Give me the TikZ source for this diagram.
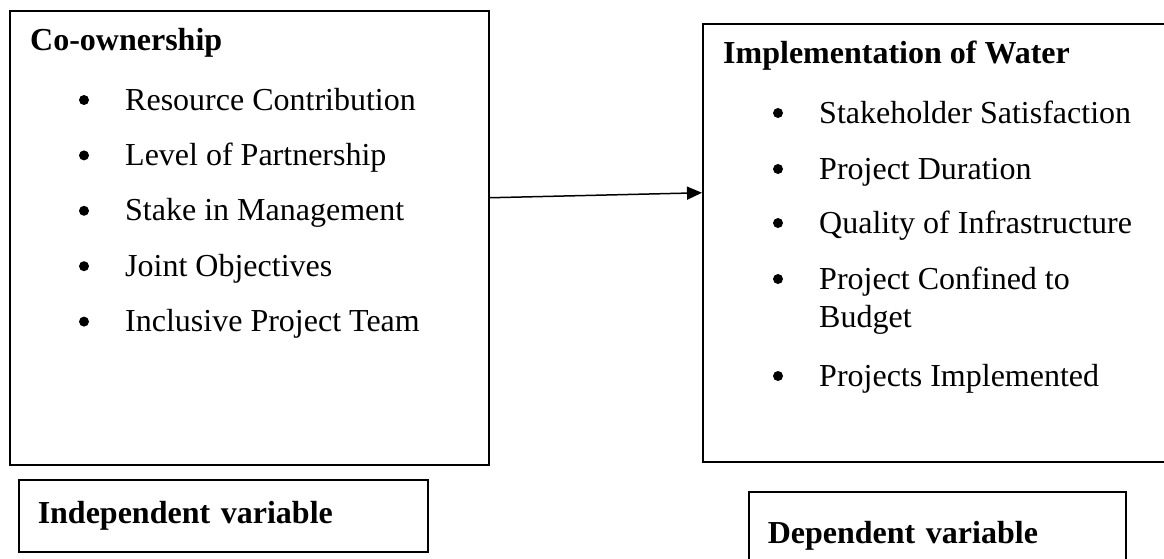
\documentclass[tikz,border=0pt]{standalone}
\usepackage{fontspec}
\setmainfont{Liberation Serif}
\usetikzlibrary{arrows.meta, positioning}

\begin{document}
\begin{tikzpicture}[x=1pt, y=-1pt,
  bigbox/.style={rectangle, draw=black, line width=1.5pt, anchor=north west, inner sep=0pt},
  head/.style={anchor=base west, inner sep=0pt, font=\fontsize{32}{38}\selectfont\bfseries},
  item/.style={anchor=base west, inner sep=0pt, align=left, font=\fontsize{32}{38}\selectfont},
  dot/.style={circle, fill=black, inner sep=0pt, minimum size=10pt},
  varbox/.style={rectangle, draw=black, line width=1.5pt, anchor=north west, inner xsep=19pt,
                 inner ysep=0pt, align=left, font=\fontsize{32}{38}\selectfont\bfseries},
  arrow/.style={-{Triangle[length=15pt, width=13pt]}, line width=1.5pt}
]
\useasboundingbox (0,0) rectangle (1164,558);

% independent side
\node[bigbox, minimum width=479pt, minimum height=454pt] (cause) at (9,10) {};
\node[head] (causetitle) at (30,50) {Co-ownership};
\foreach \txt [count=\i] in {Resource Contribution, Level of Partnership, Stake in Management,
                            Joint Objectives, Inclusive Project Team} {
  \node[dot] (cdot\i) at (84, {44.6+55.4*\i}) {};
  \node[item] (citem\i) at (125, {54.6+55.4*\i}) {\txt};
}

% dependent side (last line of an item sits at \by)
\node[bigbox, minimum width=480pt, minimum height=438pt] (effect) at (702,23) {};
\node[head] (effecttitle) at (723,63) {Implementation of Water};
\foreach \txt/\yy/\by [count=\i] in {Stakeholder Satisfaction/123/123, Project Duration/179/179,
                                    Quality of Infrastructure/233/233,
                                    {Project Confined to\\Budget}/289/327,
                                    Projects Implemented/386/386} {
  \node[dot] (edot\i) at (778, \yy-10) {};
  \node[item] (eitem\i) at (819, \by) {\txt};
}

\draw[arrow] ([yshift=40pt]cause.east) -- ([yshift=50pt]effect.west);

% variable labels
\node[varbox, minimum width=409pt, minimum height=72pt, text width=371pt] (indep) at (18,479) {Independent variable};
\node[varbox, minimum width=377pt, minimum height=89pt, text width=339pt] (dep) at (748,491) {Dependent variable};
\end{tikzpicture}
\end{document}
